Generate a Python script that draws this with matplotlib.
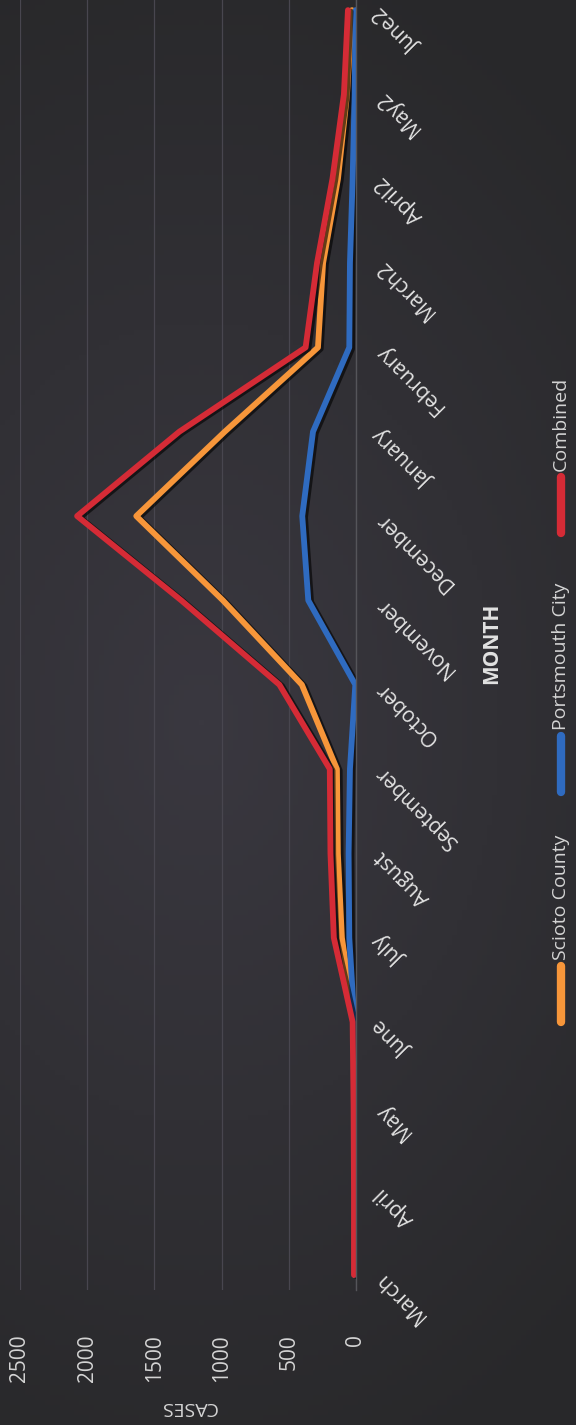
import numpy as np
import matplotlib
matplotlib.use('Agg')
import matplotlib.pyplot as plt
from matplotlib import patheffects as pe
from matplotlib import transforms
from matplotlib.lines import Line2D

plt.rcParams['font.family'] = ['Open Sans', 'DejaVu Sans']

months = ['March', 'April', 'May', 'June', 'July', 'August', 'September',
          'October', 'November', 'December', 'January', 'February',
          'March2', 'April2', 'May2', 'June2']
scioto = [8, 8, 10, 12, 105, 135, 142, 403, 990, 1635, 977, 283, 245, 134, 67, 30]
portsmouth = [5, 5, 6, 12, 50, 55, 45, 5, 355, 400, 320, 50, 45, 25, 10, 3]
combined = [15, 15, 18, 25, 165, 190, 195, 570, 1300, 2075, 1315, 375, 290, 175, 90, 60]
case_ticks = [0, 500, 1000, 1500, 2000, 2500]

series = [('Scioto County', scioto, '#f7963a'),
          ('Portsmouth City', portsmouth, '#2f6bc0'),
          ('Combined', combined, '#d52b36')]

W, H = 576, 1425
fig = plt.figure(figsize=(W / 100, H / 100), dpi=100)

# dark background with a soft lighter centre
bg = fig.add_axes([0, 0, 1, 1])
bg.axis('off')
yy, xx = np.mgrid[0:H:5, 0:W:5]
d = np.sqrt(((xx - 200) / 600.0) ** 2 + ((yy - 720) / 800.0) ** 2)
t = np.clip(d, 0, 1)[..., None]
centre = np.array([58, 56, 64]) / 255.0
edge = np.array([40, 40, 42]) / 255.0
bg.imshow(centre * (1 - t) + edge * t, extent=[0, 1, 0, 1], aspect='auto')
bg.set_xlim(0, 1)
bg.set_ylim(0, 1)

ax = fig.add_axes([20 / W, 135 / H, 336 / W, 1290 / H])
ax.patch.set_alpha(0)
idx = np.arange(len(months))

for name, vals, col in series:
    ax.plot(vals, idx, color=col, lw=4.2, solid_capstyle='round',
            path_effects=[pe.SimpleLineShadow(offset=(2, -1), shadow_color='black', alpha=0.6),
                          pe.Normal()])

ax.set_xlim(2500, 0)
ax.set_ylim(-0.178, 15.12)
ax.set_xticks(case_ticks)
ax.set_xticklabels([str(v) for v in case_ticks])
ax.grid(axis='x', color='#48464f', lw=0.9)
ax.set_axisbelow(True)
for s in ['top', 'bottom', 'left']:
    ax.spines[s].set_visible(False)
ax.spines['right'].set_color('#55555a')
ax.spines['right'].set_linewidth(1)

ax.tick_params(axis='x', length=0, pad=32, labelrotation=90, labelsize=15, labelcolor='#d4d4d4')
ax.set_yticks([])

# month labels, turned like the rest of the sideways chart
trans = transforms.blended_transform_factory(ax.transAxes, ax.transData)
for i, m in enumerate(months):
    ax.text(1 + 23 / 336, i, m, transform=trans, rotation=135, rotation_mode='anchor',
            ha='right', va='center', fontsize=15, color='#e2e2e2', clip_on=False)

# axis titles
fig.text(188 / W, 18 / H, 'CASES', rotation=180, ha='center', va='center',
         fontsize=14, color='#d4d4d4')
fig.text(492 / W, 1 - 643 / H, 'MONTH', rotation=90, ha='center', va='center',
         fontsize=15, fontweight='bold', color='#e2e2e2')

# legend drawn sideways
leg_start = [1022, 792, 533]
for (name, vals, col), y0 in zip(series, leg_start):
    fig.add_artist(Line2D([561 / W, 561 / W], [1 - y0 / H, 1 - (y0 - 56) / H],
                          transform=fig.transFigure, color=col, lw=6,
                          solid_capstyle='round'))
    fig.text(561 / W, 1 - (y0 - 62) / H, name, rotation=90, ha='center', va='bottom',
             fontsize=14, color='#d4d4d4')

fig.savefig('out.png', dpi=100)
